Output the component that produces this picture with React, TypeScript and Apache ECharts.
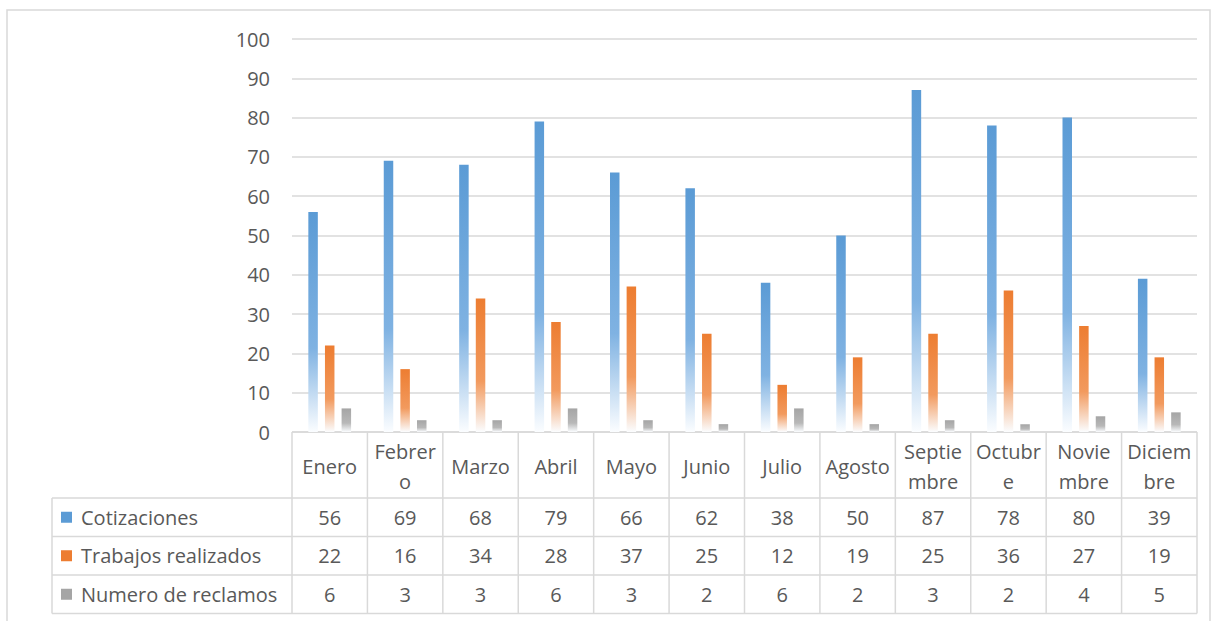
import React, { useEffect, useRef } from "react";
import * as echarts from "echarts";

const months = ["Enero", "Febrero", "Marzo", "Abril", "Mayo", "Junio", "Julio", "Agosto", "Septiembre", "Octubre", "Noviembre", "Diciembre"];
const headerLabels = ["Enero", "Febrer\no", "Marzo", "Abril", "Mayo", "Junio", "Julio", "Agosto", "Septie\nmbre", "Octubr\ne", "Novie\nmbre", "Diciem\nbre"];
const seriesNames = ["Cotizaciones", "Trabajos realizados", "Numero de reclamos"];
const cotizaciones = [56, 69, 68, 79, 66, 62, 38, 50, 87, 78, 80, 39];
const trabajos = [22, 16, 34, 28, 37, 25, 12, 19, 25, 36, 27, 19];
const reclamos = [6, 3, 3, 6, 3, 2, 6, 2, 3, 2, 4, 5];
const yMin = 0;
const yMax = 100;
const yInterval = 10;

const colors = ["#5B9BD5", "#ED7D31", "#A5A5A5"];
const lightColors = ["#7FB2E2", "#F29A5E", "#B8B8B8"];
const FONT = "Open Sans";
const FS = 20;
const TEXT = "#595959";
const LINE = "#D9D9D9";

function grad(i: number) {
  return new echarts.graphic.LinearGradient(0, 0, 0, 1, [
    { offset: 0, color: colors[i] },
    { offset: 0.62, color: lightColors[i] },
    { offset: 1, color: "#FBFDFF" },
  ]);
}

export default function App() {
  const ref = useRef<HTMLDivElement>(null);
  useEffect(() => {
    document.body.style.margin = "0";
    const chart = echarts.init(ref.current!, undefined, { renderer: "svg" });
    const allSeries = [cotizaciones, trabajos, reclamos];
    chart.setOption({
      animation: false,
      backgroundColor: "#FFFFFF",
      grid: { left: 292, right: 20, top: 39, bottom: 189 },
      xAxis: {
        type: "category",
        data: months,
        axisLine: { show: false },
        axisTick: { show: false },
        axisLabel: { show: false },
      },
      yAxis: {
        type: "value",
        min: yMin,
        max: yMax,
        interval: yInterval,
        axisLine: { show: false },
        axisTick: { show: false },
        axisLabel: { color: TEXT, fontFamily: FONT, fontSize: FS, margin: 22 },
        splitLine: { lineStyle: { color: LINE, width: 1.6 } },
      },
      series: allSeries.map((d, i) => ({
        name: seriesNames[i],
        type: "bar",
        data: d,
        barWidth: 9.5,
        barGap: "75%",
        itemStyle: { color: grad(i) },
      })),
    });

    const c0 = chart.convertToPixel({ xAxisIndex: 0 }, 0) as number;
    const c1 = chart.convertToPixel({ xAxisIndex: 0 }, 1) as number;
    const band = c1 - c0;
    const tableLeftX = c0 - band / 2;
    const tableRightX = tableLeftX + band * months.length;
    const yTop = chart.convertToPixel({ yAxisIndex: 0 }, 0) as number;
    const headerH = 66;
    const rowH = 38.5;
    const legendLeft = 52;
    const rowTops = [yTop + headerH, yTop + headerH + rowH, yTop + headerH + 2 * rowH];
    const yBottom = yTop + headerH + 3 * rowH;
    const ls = { stroke: LINE, lineWidth: 1.5 };
    const g: any[] = [];
    g.push({ type: "rect", shape: { x: 7, y: 10, width: 1203, height: 620 }, style: { fill: "none", stroke: LINE, lineWidth: 1.5 }, silent: true });
    g.push({ type: "line", shape: { x1: tableLeftX, y1: yTop, x2: tableRightX, y2: yTop }, style: ls });
    [...rowTops, yBottom].forEach((y) => {
      g.push({ type: "line", shape: { x1: legendLeft, y1: y, x2: tableRightX, y2: y }, style: ls });
    });
    g.push({ type: "line", shape: { x1: legendLeft, y1: rowTops[0], x2: legendLeft, y2: yBottom }, style: ls });
    for (let i = 0; i <= months.length; i++) {
      const x = tableLeftX + i * band;
      g.push({ type: "line", shape: { x1: x, y1: yTop, x2: x, y2: yBottom }, style: ls });
    }
    headerLabels.forEach((lab, i) => {
      const x = chart.convertToPixel({ xAxisIndex: 0 }, i) as number;
      g.push({
        type: "text",
        x,
        y: yTop + headerH / 2 + 1,
        style: { text: lab, fill: TEXT, fontFamily: FONT, fontSize: FS, align: "center", verticalAlign: "middle", lineHeight: 30 },
      });
    });
    allSeries.forEach((d, r) => {
      const cy = rowTops[r] + rowH / 2;
      g.push({ type: "rect", shape: { x: 61, y: cy - 5.5, width: 11, height: 11 }, style: { fill: colors[r] } });
      g.push({
        type: "text",
        x: 81,
        y: cy,
        style: { text: seriesNames[r], fill: TEXT, fontFamily: FONT, fontSize: FS, align: "left", verticalAlign: "middle" },
      });
      d.forEach((v, i) => {
        const x = chart.convertToPixel({ xAxisIndex: 0 }, i) as number;
        g.push({
          type: "text",
          x,
          y: cy,
          style: { text: String(v), fill: TEXT, fontFamily: FONT, fontSize: FS, align: "center", verticalAlign: "middle" },
        });
      });
    });
    chart.setOption({ graphic: g });
    return () => chart.dispose();
  }, []);
  return <div ref={ref} style={{ width: 1217, height: 621 }} />;
}
